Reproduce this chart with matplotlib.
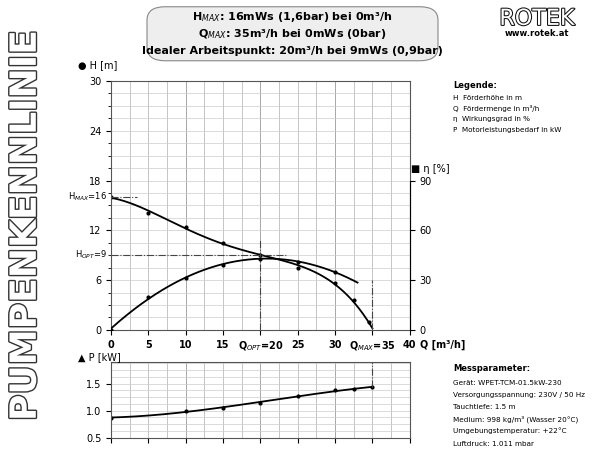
import numpy as np
import matplotlib
matplotlib.use("Agg")
import matplotlib.pyplot as plt
import matplotlib.patheffects as pe
from matplotlib.patches import FancyBboxPatch

q_h = [0, 5, 10, 15, 20, 25, 30, 32.5, 34.5, 35]
h_vals = [16, 14.1, 12.4, 10.5, 9.0, 7.5, 5.6, 3.6, 0.9, 0]
q_eta = [0, 5, 10, 15, 20, 25, 30]
eta_vals = [0, 20, 31.5, 39, 43, 41, 35]
q_p = [0, 10, 15, 20, 25, 30, 32.5, 35]
p_vals = [0.87, 1.0, 1.05, 1.14, 1.27, 1.38, 1.40, 1.43]
x_ticks = [0, 5, 10, 15, 20, 25, 30, 35, 40]
x_labels = ["0", "5", "10", "15", "Q$_{OPT}$=20", "25", "30", "Q$_{MAX}$=35", "40"]

plt.rcParams["font.family"] = "DejaVu Sans"
fig = plt.figure(figsize=(6, 4.5), dpi=100)
ax = fig.add_axes([0.185, 0.267, 0.498, 0.553])
ax.set_xlim(0, 40); ax.set_ylim(0, 30)
for x in np.arange(0, 40.1, 2.5):
    ax.axvline(x, color="#bbbbbb" if x % 10 else "#999999", lw=0.6, zorder=0)
for y in np.arange(0, 30.1, 1.5):
    ax.axhline(y, color="#cccccc", lw=0.5, zorder=0)
ax.set_xticks(x_ticks); ax.set_xticklabels(x_labels, fontsize=6.5, fontweight="bold")
ax.set_yticks([0, 6, 12, 18, 24, 30]); ax.tick_params(labelsize=7)
ax.set_yticks(np.arange(0, 30.1, 1.5), minor=True)
for s in ax.spines.values(): s.set_color("#555555")
ax2 = ax.twinx(); ax2.set_ylim(0, 150)
ax2.set_yticks([0, 30, 60, 90]); ax2.tick_params(labelsize=7)
ax2.spines["right"].set_bounds(0, 90)
for s in ["top", "left", "bottom"]: ax2.spines[s].set_visible(False)

c = np.polyfit(q_h, h_vals, 4)
xs = np.linspace(0, 35, 200)
ax.plot(xs, np.clip(np.polyval(c, xs), 0, None), color="k", lw=1.3)
ax.plot(q_h[:-1], h_vals[:-1], "k.", ms=4)
ce = np.polyfit(q_eta, eta_vals, 2)
xe = np.linspace(0, 33, 200)
ax2.plot(xe, np.polyval(ce, xe), color="k", lw=1.3)
ax2.plot(q_eta, eta_vals, "k.", ms=4)

ax.plot([0, 3.5], [16, 16], color="#444444", lw=0.8, ls="-.")
ax.plot([0, 23.5], [9, 9], color="#444444", lw=0.8, ls="-.")
ax.plot([20, 20], [0, 11], color="#444444", lw=0.8, ls="-.")
ax.plot([35, 35], [0, 6], color="#444444", lw=0.8, ls="-.")
ax.text(-0.5, 16, "H$_{MAX}$=16", ha="right", va="center", fontsize=6)
ax.text(-0.5, 9, "H$_{OPT}$=9", ha="right", va="center", fontsize=6)
fig.text(0.13, 0.848, "● H [m]", fontsize=7)
fig.text(0.685, 0.618, "■ η [%]", fontsize=7)
fig.text(0.7, 0.228, "Q [m³/h]", fontsize=7, fontweight="bold")

axp = fig.add_axes([0.185, 0.027, 0.498, 0.169])
axp.set_xlim(0, 40); axp.set_ylim(0.5, 1.9)
for x in np.arange(0, 40.1, 2.5):
    axp.axvline(x, color="#bbbbbb" if x % 10 else "#999999", lw=0.6, zorder=0)
for y in np.arange(0.5, 1.91, 0.125):
    axp.axhline(y, color="#cccccc", lw=0.5, zorder=0)
axp.set_xticks(x_ticks); axp.set_xticklabels([])
axp.set_yticks([0.5, 1.0, 1.5]); axp.set_yticklabels(["0.5", "1.0", "1.5"])
axp.tick_params(labelsize=7)
for s in axp.spines.values(): s.set_color("#555555")
cp = np.polyfit(q_p, p_vals, 3)
axp.plot(xs, np.polyval(cp, xs), color="k", lw=1.3)
axp.plot(q_p, p_vals, "k.", ms=4)
axp.plot([35, 35], [1.43, 1.9], color="#444444", lw=0.8, ls="-.")
fig.text(0.13, 0.2, "▲ P [kW]", fontsize=7)

box = FancyBboxPatch((0.245, 0.865), 0.485, 0.12, boxstyle="round,pad=0.0,rounding_size=0.03",
                     transform=fig.transFigure, fc="#eeeeee", ec="#888888", lw=0.8)
fig.patches.append(box)
hdr = ["H$_{MAX}$: 16mWs (1,6bar) bei 0m³/h", "Q$_{MAX}$: 35m³/h bei 0mWs (0bar)",
       "Idealer Arbeitspunkt: 20m³/h bei 9mWs (0,9bar)"]
for i, t in enumerate(hdr):
    fig.text(0.487, 0.963 - i * 0.038, t, ha="center", va="center", fontsize=8,
             fontweight="bold")
fig.text(0.895, 0.958, "ROTEK", ha="center", va="center", fontsize=16, color="white",
         path_effects=[pe.withStroke(linewidth=1.5, foreground="#111111")])
fig.text(0.895, 0.925, "www.rotek.at", ha="center", va="center", fontsize=6,
         fontweight="bold")
fig.text(0.043, 0.5, "PUMPENKENNLINIE", rotation=90, ha="center", va="center",
         fontsize=26, fontweight="bold", color="white", family="Liberation Sans Narrow",
         path_effects=[pe.withStroke(linewidth=2, foreground="#333333")])

fig.text(0.755, 0.805, "Legende:", fontsize=6, fontweight="bold")
leg = ["H  Förderhöhe in m", "Q  Fördermenge in m³/h", "η  Wirkungsgrad in %",
       "P  Motorleistungsbedarf in kW"]
for i, t in enumerate(leg):
    fig.text(0.755, 0.778 - i * 0.024, t, fontsize=5.2)
fig.text(0.755, 0.175, "Messparameter:", fontsize=6, fontweight="bold")
mp = ["Gerät: WPET-TCM-01.5kW-230", "Versorgungsspannung: 230V / 50 Hz",
      "Tauchtiefe: 1.5 m", "Medium: 998 kg/m³ (Wasser 20°C)",
      "Umgebungstemperatur: +22°C", "Luftdruck: 1.011 mbar"]
for i, t in enumerate(mp):
    fig.text(0.755, 0.145 - i * 0.027, t, fontsize=5.2)
fig.savefig("out.png", dpi=100)
